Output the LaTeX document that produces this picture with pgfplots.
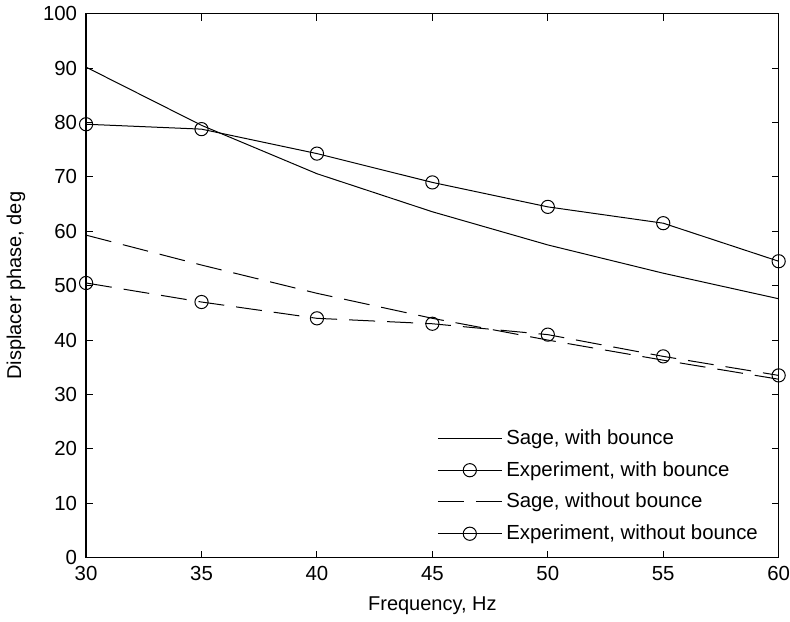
\documentclass[border=0pt]{standalone}
\usepackage{fontspec}
\setmainfont{Liberation Sans}
\usepackage{pgfplots}
\pgfplotsset{compat=1.18}
\begin{document}
\fontsize{10}{12}\selectfont
\begin{tikzpicture}
\begin{axis}[
  scale only axis,
  width=346.5pt, height=272pt,
  xmin=30, xmax=60, ymin=0, ymax=100,
  xtick={30,35,...,60}, ytick={0,10,...,100},
  tick align=inside,
  major tick length=3.5pt,
  tick style={black, line width=0.5pt},
  axis line style={line width=0.6pt},
  /pgf/number format/assume math mode=true,
  ticklabel style={font=\fontsize{10.2}{12}\selectfont},
  xticklabel style={yshift=-1pt, inner xsep=0pt},
  yticklabel style={xshift=-1pt},
  xlabel={Frequency, Hz},
  ylabel={Displacer phase, deg},
  label style={font=\fontsize{10}{12}\selectfont},
  xlabel shift=1pt,
  ylabel shift=2pt,
  legend style={draw=none, fill=none, at={(0.985,0.012)}, anchor=south east,
    font=\fontsize{10.2}{12}\selectfont, row sep=3pt},
  legend cell align=left,
  legend image code/.code={\draw[#1] (0pt,0pt) -- (32pt,0pt); \draw[#1,solid,mark repeat=1] plot coordinates {(16pt,0pt)};},
]
\addlegendimage{black, line width=0.5pt}
\addlegendentry{Sage, with bounce}
\addlegendimage{black, line width=0.5pt, mark=o, mark size=3.3pt}
\addlegendentry{Experiment, with bounce}
\addlegendimage{black, line width=0.5pt, dash pattern=on 13pt off 6pt}
\addlegendentry{Sage, without bounce}
\addlegendimage{black, line width=0.5pt, mark=o, mark size=3.3pt}
\addlegendentry{Experiment, without bounce}

\addplot[black, line width=0.5pt, forget plot] coordinates {
  (30,90.2) (35,79.5) (40,70.6) (45,63.6) (50,57.5) (55,52.3) (60,47.6)};
\addplot[black, line width=0.5pt, mark=o, mark size=3.3pt, forget plot] coordinates {
  (30,79.7) (35,78.8) (40,74.3) (45,69.0) (50,64.5) (55,61.5) (60,54.5)};
\addplot[black, line width=0.5pt, dash pattern=on 13pt off 6pt, forget plot] coordinates {
  (30,59.3) (35,53.8) (40,48.6) (45,44.0) (50,40.0) (55,36.3) (60,32.8)};
\addplot[black, line width=0.5pt, dash pattern=on 13pt off 6pt, mark=o, mark size=3.3pt,
  mark options={solid}, forget plot] coordinates {
  (30,50.5) (35,47.0) (40,44.0) (45,43.0) (50,41.0) (55,37.0) (60,33.5)};
\end{axis}
\end{tikzpicture}
\end{document}
